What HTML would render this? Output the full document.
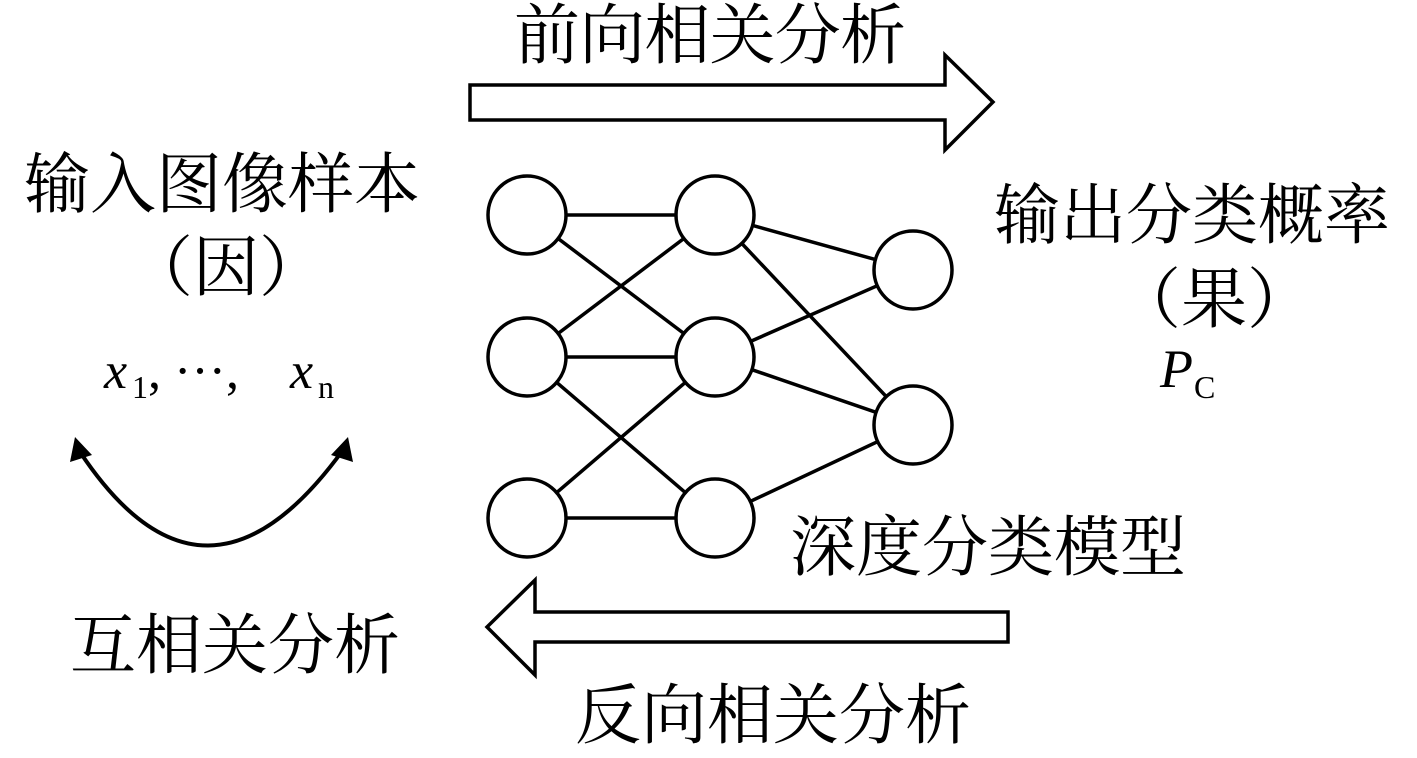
<!DOCTYPE html>
<html><head><meta charset="utf-8"><style>
body{margin:0;background:#fff;}
svg{display:block;}
text{font-family:"Liberation Serif","Noto Serif CJK SC",serif;fill:#000;}
</style></head><body>
<svg width="1417" height="758" viewBox="0 0 1417 758">
<g fill="#fff" stroke="#000" stroke-width="3.5">
<polygon points="470,85 945,85 945,55 993,102 945,150 945,120 470,120"/>
<polygon points="1008,612 535,612 535,580 487,627 535,675 535,642 1008,642"/>
</g>
<g stroke="#000" stroke-width="3.5">
<line x1="527" y1="215" x2="715" y2="215"/>
<line x1="527" y1="215" x2="715" y2="357"/>
<line x1="527" y1="357" x2="715" y2="215"/>
<line x1="527" y1="357" x2="715" y2="357"/>
<line x1="527" y1="357" x2="715" y2="518"/>
<line x1="527" y1="518" x2="715" y2="357"/>
<line x1="527" y1="518" x2="715" y2="518"/>
<line x1="715" y1="215" x2="913" y2="270"/>
<line x1="715" y1="215" x2="913" y2="425"/>
<line x1="715" y1="357" x2="913" y2="270"/>
<line x1="715" y1="357" x2="913" y2="425"/>
<line x1="715" y1="518" x2="913" y2="425"/>
</g>
<g fill="#fff" stroke="#000" stroke-width="3.5">
<circle cx="527" cy="215" r="39"/><circle cx="527" cy="357" r="39"/><circle cx="527" cy="518" r="39"/>
<circle cx="715" cy="215" r="39"/><circle cx="715" cy="357" r="39"/><circle cx="715" cy="518" r="39"/>
<circle cx="913" cy="270" r="39"/><circle cx="913" cy="425" r="39"/>
</g>
<path d="M80,452 Q205,640 343,450" fill="none" stroke="#000" stroke-width="4"/>
<polygon points="75,437 70,462 92,455" fill="#000"/>
<polygon points="348,437 331,455 353,462" fill="#000"/>
<g font-size="66">
<text x="24" y="207" textLength="396">输入图像样本</text>
<text x="514" y="58" textLength="392">前向相关分析</text>
<text x="127" y="290">（因）</text>
<text x="994" y="238" textLength="396">输出分类概率</text>
<text x="1115" y="322">（果）</text>
<text x="790" y="570" textLength="396">深度分类模型</text>
<text x="70" y="668" textLength="330">互相关分析</text>
<text x="575" y="738" textLength="396">反向相关分析</text>
</g>
<text x="104" y="388" font-size="52" font-style="italic">x</text>
<text x="132" y="398" font-size="32">1</text>
<text x="148" y="388" font-size="52">, ···,</text>
<text x="290" y="388" font-size="52" font-style="italic">x</text>
<text x="318" y="398" font-size="32">n</text>
<text x="1160" y="387" font-size="54" font-style="italic">P</text>
<text x="1194" y="398" font-size="32">C</text>
</svg>
</body></html>
